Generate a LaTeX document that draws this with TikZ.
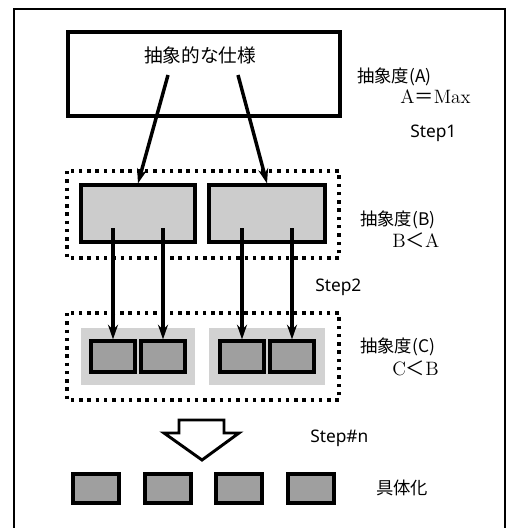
\documentclass[tikz,border=0pt]{standalone}
\usepackage{fontspec}
\setsansfont{Noto Sans}
\newfontfamily\jp{Noto Sans CJK JP}
\usetikzlibrary{arrows.meta}
\tikzset{
  box/.style={draw, line width=2.4pt, inner sep=0pt},
  coarse/.style={box, fill=gray!40},
  fine/.style={box, fill=gray!75},
  group/.style={draw=none, fill=gray!35, inner sep=0pt},
  dotbox/.style={line width=2.6pt, dash pattern=on 2.6pt off 3.6pt},
  flow/.style={line width=2.6pt, -{Stealth[length=11pt, width=7.5pt]}},
  note/.style={anchor=west, inner sep=0pt, font=\jp\fontsize{13}{15}\selectfont},
  val/.style={anchor=west, inner sep=0pt, font=\fontsize{14.5}{16}\selectfont},
  steplbl/.style={anchor=west, inner sep=0pt, font=\sffamily\fontsize{13}{15}\selectfont},
}
\begin{document}
\begin{tikzpicture}[x=0.75pt, y=-0.75pt]
    \useasboundingbox (0,0) rectangle (508,528);
    % frame
    \draw[line width=1.4pt] (14,528) -- (14,9) -- (505,9) -- (505,528);

    % abstract spec
    \node[box, minimum width=272*0.75pt, minimum height=84*0.75pt] (spec) at (204,74) {};
    \node[inner sep=0pt, font=\jp\fontsize{14}{16}\selectfont] (spectxt) at (200,55) {抽象的な仕様};
    \coordinate (s1) at (168,75);
    \coordinate (s2) at (238,75);

    % level B
    \draw[dotbox] (67,171) rectangle (339,258);
    \node[coarse, minimum width=114*0.75pt, minimum height=57*0.75pt] (b1) at (138,213.5) {};
    \node[coarse, minimum width=116*0.75pt, minimum height=57*0.75pt] (b2) at (267,213.5) {};

    % level C
    \draw[dotbox] (67,313) rectangle (339,400);
    \node[group, minimum width=114*0.75pt, minimum height=57*0.75pt] (c1) at (138,356.5) {};
    \node[group, minimum width=116*0.75pt, minimum height=57*0.75pt] (c2) at (267,356.5) {};
    \foreach \name/\xx in {c1a/113, c1b/163, c2a/242, c2b/292}
        \node[fine, minimum width=44*0.75pt, minimum height=31*0.75pt] (\name) at (\xx,356.5) {};

    % concrete parts
    \foreach \name/\xx in {d1/96, d2/168, d3/239, d4/311}
        \node[fine, minimum width=46*0.75pt, minimum height=29*0.75pt] (\name) at (\xx,488.5) {};

    % arrows
    \draw[flow] (s1) -- (b1.north);
    \draw[flow] (s2) -- (b2.north);
    \foreach \name in {c1a, c1b, c2a, c2b}
        \draw[flow] (\name.north |- 0,228) -- (\name.north);

    % big hollow arrow
    \draw[line width=2.2pt, line join=miter, fill=white]
        (179,420) -- (224,420) -- (224,433) -- (239,433) -- (202,460)
        -- (164,433) -- (179,433) -- cycle;

    % labels
    \node[note] (la) at (357,77) {抽象度(A)};
    \node[val] (va) at (400,97) {A{\jp ＝}Max};
    \node[steplbl] (st1) at (410,133) {Step1};
    \node[note] (lb) at (360,220) {抽象度(B)};
    \node[val] (vb) at (392,240) {B{\jp ＜}A};
    \node[steplbl] (st2) at (315,287) {Step2};
    \node[note] (lc) at (360,347) {抽象度(C)};
    \node[val] (vc) at (392,368) {C{\jp ＜}B};
    \node[steplbl] (stn) at (310,438) {Step\#n};
    \node[note] (lconc) at (376,488) {具体化};
\end{tikzpicture}
\end{document}
